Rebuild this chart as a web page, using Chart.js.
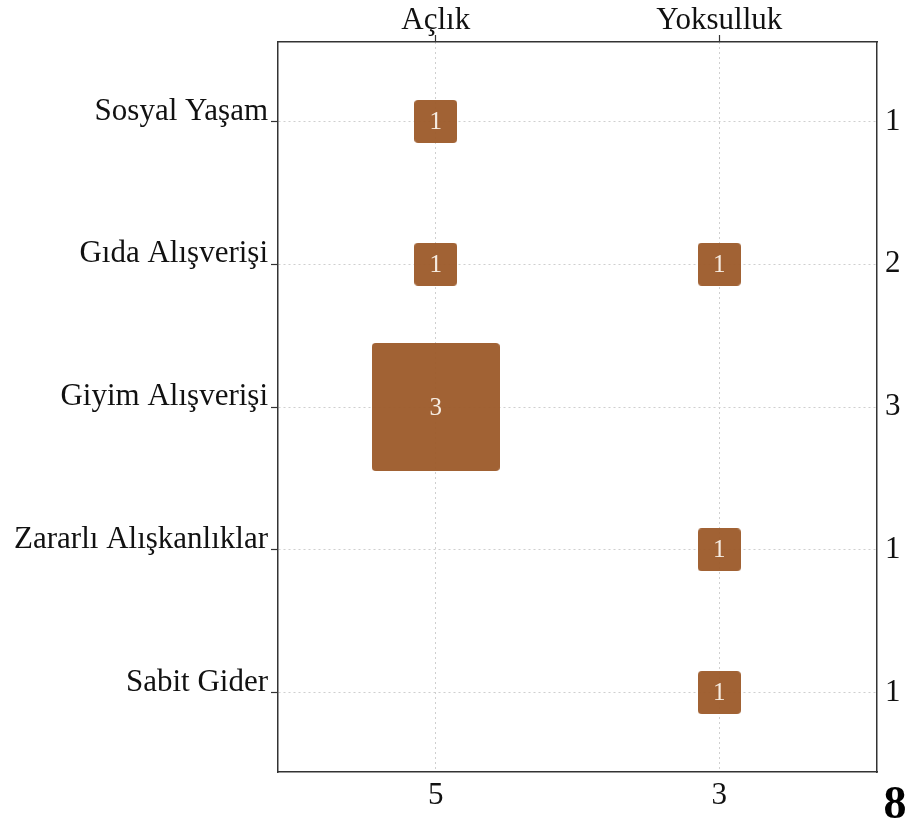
<!DOCTYPE html>
<html>
<head>
<meta charset="utf-8">
<script src="https://cdn.jsdelivr.net/npm/chart.js@4.4.0/dist/chart.umd.min.js"></script>
<style>
  html, body { margin: 0; padding: 0; background: #fff; }
  canvas { display: block; }
</style>
</head>
<body>
<canvas id="chart" width="909" height="823"></canvas>
<script>
const columns = ["Açlık", "Yoksulluk"];
const rows = ["Sosyal Yaşam", "Gıda Alışverişi", "Giyim Alışverişi", "Zararlı Alışkanlıklar", "Sabit Gider"];
const aclik = [1, 1, 3, 0, 0];
const yoksulluk = [0, 1, 0, 1, 1];
const rowTotals = [1, 2, 3, 1, 1];
const columnTotals = [5, 3];
const grandTotal = 8;

const serif = "'Liberation Serif', 'Times New Roman', serif";
const boxColor = "rgba(157, 92, 44, 0.96)";
const gridColor = "#cfcfcf";
const axisColor = "#333";

// one point per non-empty cell
const points = [];
[aclik, yoksulluk].forEach((col, ci) => {
  col.forEach((v, ri) => {
    if (v > 0) points.push({ x: ci, y: ri, v: v });
  });
});

const boxCache = {};
function boxFor(v) {
  if (boxCache[v]) return boxCache[v];
  const side = Math.round(42.7 * v);
  const c = document.createElement("canvas");
  c.width = side;
  c.height = side;
  const g = c.getContext("2d");
  g.fillStyle = boxColor;
  g.beginPath();
  g.roundRect(0, 0, side, side, 4);
  g.fill();
  boxCache[v] = c;
  return c;
}

const cellLabels = {
  id: "cellLabels",
  afterDatasetsDraw(chart) {
    const ctx = chart.ctx;
    const meta = chart.getDatasetMeta(0);
    ctx.save();
    ctx.font = "25px " + serif;
    ctx.fillStyle = "#f6ece1";
    ctx.textAlign = "center";
    ctx.textBaseline = "middle";
    meta.data.forEach((el, i) => {
      ctx.fillText(String(points[i].v), el.x, el.y + 1);
    });
    ctx.restore();
  },
};

const cornerTotal = {
  id: "cornerTotal",
  afterDraw(chart) {
    const ctx = chart.ctx;
    ctx.save();
    ctx.font = "bold 46px " + serif;
    ctx.fillStyle = "#000";
    ctx.textAlign = "center";
    ctx.textBaseline = "alphabetic";
    ctx.fillText(String(grandTotal), 895, 818);
    ctx.restore();
  },
};

const tickFont = { family: serif, size: 31 };
const xTicks = (s) => { s.ticks = columns.map((_, i) => ({ value: i })); };
const yTicks = (s) => { s.ticks = rows.map((_, i) => ({ value: i })); };

new Chart(document.getElementById("chart"), {
  type: "scatter",
  data: {
    datasets: [{
      data: points,
      pointStyle: (ctx) => boxFor(points[ctx.dataIndex].v),
      radius: 5,
      hoverRadius: 5,
    }],
  },
  options: {
    responsive: false,
    animation: false,
    layout: { padding: 0, autoPadding: false },
    plugins: { legend: { display: false }, tooltip: { enabled: false } },
    scales: {
      x: {
        type: "linear",
        position: "bottom",
        min: -0.556,
        max: 1.556,
        afterBuildTicks: xTicks,
        afterFit: (s) => { s.height = 51; },
        ticks: { callback: (v, i) => columnTotals[i], font: tickFont, color: "#111", padding: 5 },
        grid: { color: gridColor, drawTicks: false },
        border: { color: axisColor, width: 1.5, dash: [2, 3] },
      },
      x2: {
        type: "linear",
        position: "top",
        min: -0.556,
        max: 1.556,
        afterBuildTicks: xTicks,
        afterFit: (s) => { s.height = 42; },
        ticks: { callback: (v, i) => columns[i], font: tickFont, color: "#111", padding: -4 },
        grid: { drawOnChartArea: false, tickLength: 7, tickColor: axisColor, tickWidth: 1.2 },
        border: { color: axisColor, width: 1.5 },
      },
      y: {
        type: "linear",
        position: "left",
        reverse: true,
        min: -0.556,
        max: 4.556,
        afterBuildTicks: yTicks,
        afterFit: (s) => { s.width = 278; },
        ticks: { callback: (v, i) => rows[i], font: tickFont, color: "#111", padding: 3, labelOffset: -10 },
        grid: { color: gridColor, tickLength: 7, tickColor: axisColor, tickWidth: 1.2 },
        border: { color: axisColor, width: 1.5, dash: [2, 3] },
      },
      y2: {
        type: "linear",
        position: "right",
        reverse: true,
        min: -0.556,
        max: 4.556,
        afterBuildTicks: yTicks,
        afterFit: (s) => { s.width = 32; },
        ticks: { callback: (v, i) => rowTotals[i], font: tickFont, color: "#111", padding: 8 },
        grid: { drawOnChartArea: false, drawTicks: false },
        border: { color: axisColor, width: 1.5 },
      },
    },
  },
  plugins: [cellLabels, cornerTotal],
});
</script>
</body>
</html>
